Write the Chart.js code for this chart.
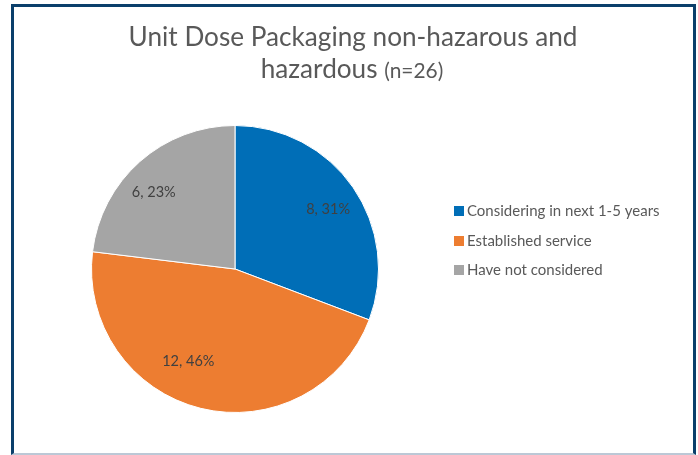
<!DOCTYPE html>
<html><head><meta charset="utf-8">
<script src="https://cdn.jsdelivr.net/npm/chart.js@4.4.0/dist/chart.umd.min.js"></script>
<style>
html,body{margin:0;padding:0;background:#fff;}
#wrap{position:relative;width:698px;height:455px;}
#frame{position:absolute;left:11px;top:4px;width:679px;height:446px;border-left:3px solid #0B3F6B;border-top:3px solid #0B3F6B;border-right:3px solid #0B3F6B;border-bottom:2px solid #BCC8D6;}
canvas{position:absolute;left:0;top:0;}
</style></head><body>
<div id="wrap"><div id="frame"></div><canvas id="c" width="698" height="455"></canvas></div>
<script>
const categories = ["Considering in next 1-5 years", "Established service", "Have not considered"];
const counts = [8, 12, 6];
const percents = [31, 46, 23];
const colors = ["#006EB7", "#ED7D31", "#A5A5A5"];
const titleMain = ["Unit Dose Packaging non-hazarous and", "hazardous"];
const titleSub = "(n=26)";
const FONT = "Lato, sans-serif";

// label placement (fraction of radius, angle shift in degrees)
const labelPlace = [[0.77, 2], [0.72, 13], [0.78, -5]];

const overlay = {
  id: 'overlay',
  afterDraw(chart) {
    const ctx = chart.ctx;
    ctx.save();
    ctx.fillStyle = '#595959';
    ctx.textBaseline = 'alphabetic';
    ctx.textAlign = 'left';
    ctx.font = '26px ' + FONT;
    let w1 = ctx.measureText(titleMain[0]).width;
    const ts = 26 * 449 / w1;
    const ss = ts * 0.8;
    ctx.font = ts + 'px ' + FONT;
    w1 = ctx.measureText(titleMain[0]).width;
    ctx.fillText(titleMain[0], 353 - w1 / 2, 46);
    const w2a = ctx.measureText(titleMain[1] + ' ').width;
    ctx.font = ss + 'px ' + FONT;
    const w2b = ctx.measureText(titleSub).width;
    const x2 = 352 - (w2a + w2b) / 2;
    ctx.font = ts + 'px ' + FONT;
    ctx.fillText(titleMain[1], x2, 78);
    ctx.font = ss + 'px ' + FONT;
    ctx.fillText(titleSub, x2 + w2a, 78);
    // legend
    ctx.font = '15px ' + FONT;
    ctx.textBaseline = 'middle';
    const ly = [211, 241, 270];
    chart.data.labels.forEach((lab, i) => {
      ctx.fillStyle = chart.data.datasets[0].backgroundColor[i];
      ctx.fillRect(454, ly[i] - 5, 10, 10);
      ctx.fillStyle = '#595959';
      ctx.fillText(lab, 467, ly[i]);
    });
    // data labels
    const meta = chart.getDatasetMeta(0);
    ctx.font = '14.5px ' + FONT;
    ctx.fillStyle = '#404040';
    ctx.textAlign = 'center';
    meta.data.forEach((arc, i) => {
      const mid = (arc.startAngle + arc.endAngle) / 2 + labelPlace[i][1] * Math.PI / 180;
      const r = arc.outerRadius * labelPlace[i][0];
      const x = arc.x + Math.cos(mid) * r;
      const y = arc.y + Math.sin(mid) * r;
      ctx.fillText(counts[i] + ', ' + percents[i] + '%', x, y);
    });
    ctx.restore();
  }
};

new Chart(document.getElementById('c'), {
  type: 'pie',
  data: {
    labels: categories,
    datasets: [{ data: counts, backgroundColor: colors, borderColor: '#ffffff', borderWidth: 1 }]
  },
  options: {
    responsive: false,
    animation: false,
    layout: { padding: { left: 91, top: 125, right: 319, bottom: 42 } },
    plugins: { legend: { display: false }, title: { display: false }, tooltip: { enabled: false } }
  },
  plugins: [overlay]
});
</script>
</body></html>
